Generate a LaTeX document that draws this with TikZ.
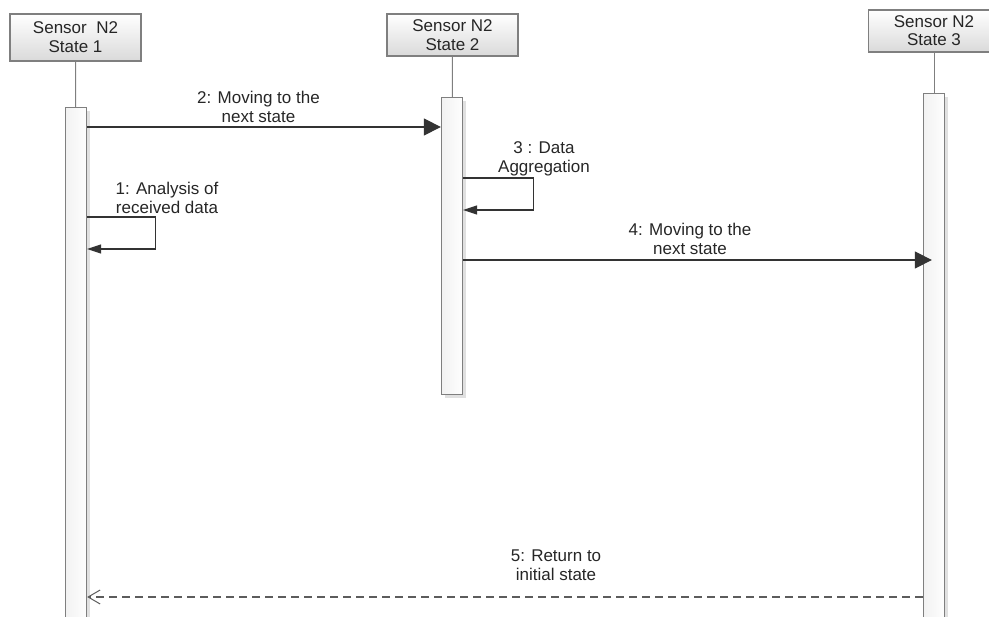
\documentclass[tikz,border=0pt]{standalone}
\usepackage{fontspec}
\setmainfont{Liberation Sans}
\usetikzlibrary{arrows.meta,shadows}
\definecolor{edgegray}{HTML}{7F7F7F}
\definecolor{boxfill}{HTML}{F2F2F2}
\definecolor{msggray}{HTML}{333333}
\begin{document}
\begin{tikzpicture}[x=1pt,y=1pt]
\tikzstyle{every node}+=[inner sep=0pt, font=\fontsize{17}{19}\selectfont, text=black!85, align=center]
\tikzstyle{head}=[draw=edgegray, line width=1.1pt, top color=white, bottom color=boxfill!90!black, minimum width=131, minimum height=42]
\tikzstyle{bar}=[draw=edgegray, line width=1.3pt, left color=boxfill, right color=white!90!boxfill, minimum width=21, anchor=north, drop shadow={shadow xshift=3pt, shadow yshift=-3pt, fill=black!12, opacity=1}]
\tikzstyle{lifeline}=[draw=edgegray, line width=1pt]
\tikzstyle{msg}=[draw=msggray, line width=1.2pt, -{Triangle[length=17pt,width=17pt]}]
\tikzstyle{selfmsg}=[draw=msggray, line width=1.2pt, -{Triangle[length=14pt,width=9pt]}]
\tikzstyle{reply}=[draw=msggray!80, line width=1.2pt, dash pattern=on 8pt off 5pt, -{Straight Barb[length=12pt,width=14pt,line width=1pt]}]
\useasboundingbox (0,0) rectangle (989,-617);
\clip (0,0) rectangle (989,-617);
% lifeline heads
\node [head, minimum height=47] (head1) at (75.5,-37.5) {Sensor\ \ N2\\State 1};
\node [head] (head2) at (452.5,-35) {Sensor N2\\State 2};
\node [head, font=\fontsize{17}{18}\selectfont] (head3) at (934,-31) {Sensor N2\\State 3};
% activation bars
\node [bar, minimum height=530] (bar1) at (76,-107) {};
\node [bar, minimum height=297] (bar2) at (452,-97) {};
\node [bar, minimum height=540] (bar3) at (934,-93) {};
\draw [lifeline] (head1) -- (bar1);
\draw [lifeline] (head2) -- (bar2);
\draw [lifeline] (head3) -- (bar3);
% message points
\path (bar1.north east) ++(0,-20) coordinate (m2);
\path (bar1.north east) ++(0,-110) coordinate (s1);
\path (bar2.north east) ++(0,-81) coordinate (s3);
\path (bar2.north east) ++(0,-163) coordinate (m4);
\path (bar3.north west) ++(0,-504) coordinate (m5);
% messages
\draw [msg] (m2) -- (m2 -| bar2.west);
\node (lab2) at (258.5,-106.5) {2: Moving to the\\next state};
\draw [selfmsg] (s1) -- ++(68,0) -- ++(0,-32) -- ++(-68,0);
\node (lab1) at (167,-198) {1: Analysis of\\received data};
\draw [selfmsg] (s3) -- ++(70,0) -- ++(0,-32) -- ++(-70,0);
\node (lab3) at (544,-159) {3 : Data\\Aggregation};
\draw [msg, shorten >=-9pt] (m4) -- (m4 -| bar3.west);
\node (lab4) at (690,-239) {4: Moving to the\\next state};
\draw [reply] (m5) -- (m5 -| bar1.east);
\node (lab5) at (556,-565) {5: Return to\\initial state};
\end{tikzpicture}
\end{document}
